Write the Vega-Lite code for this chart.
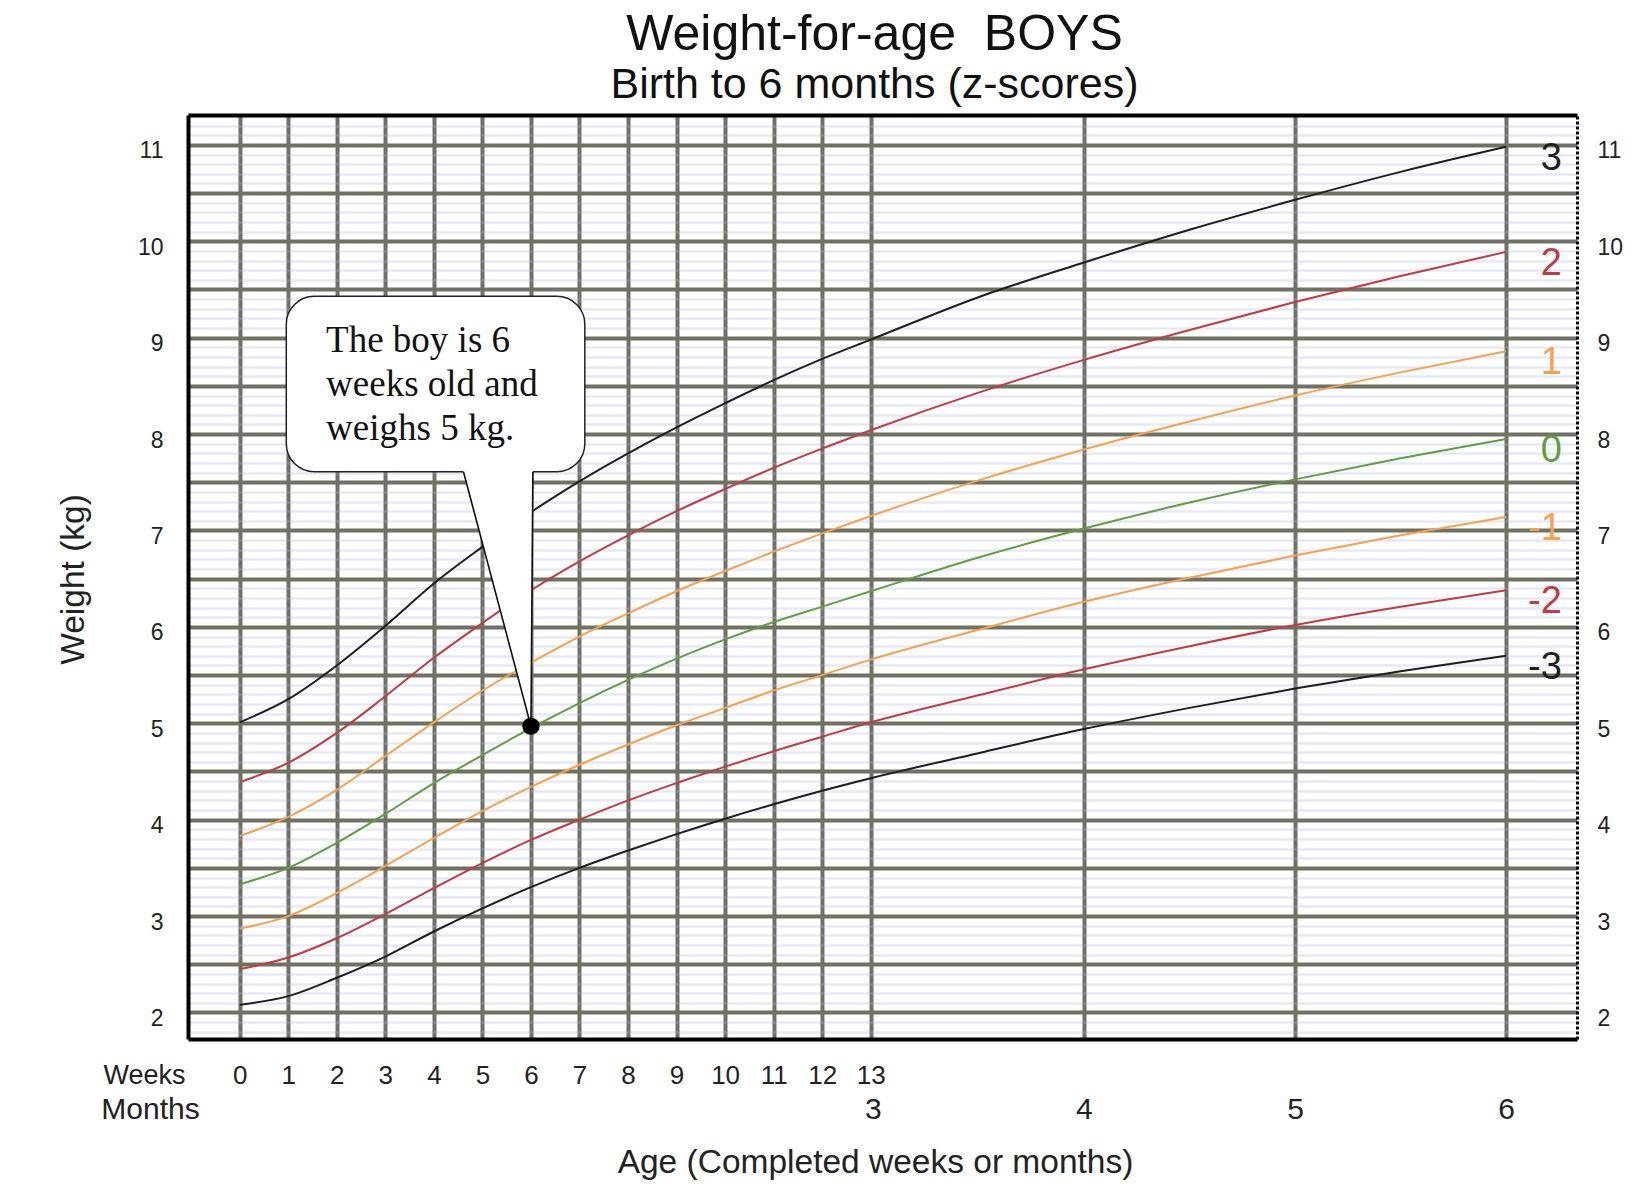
{
  "$schema": "https://vega.github.io/schema/vega-lite/v6.json",
  "width": 1389,
  "height": 924,
  "autosize": "none",
  "padding": {"left": 188, "top": 115, "right": 64, "bottom": 160},
  "background": "white",
  "config": {
    "font": "Liberation Sans",
    "view": {"stroke": null},
    "axis": {"labelColor": "#222", "titleColor": "#222", "titleFontWeight": "normal", "labelFont": "Liberation Sans", "titleFont": "Liberation Sans"}
  },
  "title": {
    "text": "Weight-for-age\u00a0 BOYS",
    "subtitle": "Birth to 6 months (z-scores)",
    "anchor": "middle",
    "font": "Liberation Sans",
    "subtitleFont": "Liberation Sans",
    "fontSize": 50,
    "subtitleFontSize": 43,
    "fontWeight": "normal",
    "color": "#111",
    "subtitleColor": "#111",
    "offset": 8,
    "subtitlePadding": 4,
    "dx": -8
  },
  "datasets": {
    "curves": [
      {"age": 0, "z": "3", "kg": 5.01}, {"age": 7, "z": "3", "kg": 5.25}, {"age": 14, "z": "3", "kg": 5.6}, {"age": 21, "z": "3", "kg": 6.01}, {"age": 28, "z": "3", "kg": 6.45}, {"age": 35, "z": "3", "kg": 6.83}, {"age": 42, "z": "3", "kg": 7.19}, {"age": 49, "z": "3", "kg": 7.51}, {"age": 56, "z": "3", "kg": 7.8}, {"age": 63, "z": "3", "kg": 8.07}, {"age": 70, "z": "3", "kg": 8.32}, {"age": 77, "z": "3", "kg": 8.56}, {"age": 84, "z": "3", "kg": 8.78}, {"age": 91, "z": "3", "kg": 8.98}, {"age": 106.53, "z": "3", "kg": 9.42}, {"age": 121.75, "z": "3", "kg": 9.78}, {"age": 136.97, "z": "3", "kg": 10.12}, {"age": 152.19, "z": "3", "kg": 10.43}, {"age": 167.41, "z": "3", "kg": 10.72}, {"age": 182.63, "z": "3", "kg": 10.98},
      {"age": 0, "z": "2", "kg": 4.39}, {"age": 7, "z": "2", "kg": 4.59}, {"age": 14, "z": "2", "kg": 4.9}, {"age": 21, "z": "2", "kg": 5.28}, {"age": 28, "z": "2", "kg": 5.68}, {"age": 35, "z": "2", "kg": 6.04}, {"age": 42, "z": "2", "kg": 6.38}, {"age": 49, "z": "2", "kg": 6.68}, {"age": 56, "z": "2", "kg": 6.95}, {"age": 63, "z": "2", "kg": 7.2}, {"age": 70, "z": "2", "kg": 7.43}, {"age": 77, "z": "2", "kg": 7.65}, {"age": 84, "z": "2", "kg": 7.85}, {"age": 91, "z": "2", "kg": 8.04}, {"age": 106.53, "z": "2", "kg": 8.43}, {"age": 121.75, "z": "2", "kg": 8.77}, {"age": 136.97, "z": "2", "kg": 9.08}, {"age": 152.19, "z": "2", "kg": 9.37}, {"age": 167.41, "z": "2", "kg": 9.64}, {"age": 182.63, "z": "2", "kg": 9.89},
      {"age": 0, "z": "1", "kg": 3.83}, {"age": 7, "z": "1", "kg": 4.03}, {"age": 14, "z": "1", "kg": 4.31}, {"age": 21, "z": "1", "kg": 4.66}, {"age": 28, "z": "1", "kg": 5.01}, {"age": 35, "z": "1", "kg": 5.34}, {"age": 42, "z": "1", "kg": 5.63}, {"age": 49, "z": "1", "kg": 5.9}, {"age": 56, "z": "1", "kg": 6.14}, {"age": 63, "z": "1", "kg": 6.37}, {"age": 70, "z": "1", "kg": 6.58}, {"age": 77, "z": "1", "kg": 6.78}, {"age": 84, "z": "1", "kg": 6.97}, {"age": 91, "z": "1", "kg": 7.15}, {"age": 106.53, "z": "1", "kg": 7.52}, {"age": 121.75, "z": "1", "kg": 7.84}, {"age": 136.97, "z": "1", "kg": 8.13}, {"age": 152.19, "z": "1", "kg": 8.4}, {"age": 167.41, "z": "1", "kg": 8.64}, {"age": 182.63, "z": "1", "kg": 8.86},
      {"age": 0, "z": "0", "kg": 3.33}, {"age": 7, "z": "0", "kg": 3.5}, {"age": 14, "z": "0", "kg": 3.76}, {"age": 21, "z": "0", "kg": 4.06}, {"age": 28, "z": "0", "kg": 4.38}, {"age": 35, "z": "0", "kg": 4.67}, {"age": 42, "z": "0", "kg": 4.95}, {"age": 49, "z": "0", "kg": 5.21}, {"age": 56, "z": "0", "kg": 5.45}, {"age": 63, "z": "0", "kg": 5.67}, {"age": 70, "z": "0", "kg": 5.87}, {"age": 77, "z": "0", "kg": 6.05}, {"age": 84, "z": "0", "kg": 6.21}, {"age": 91, "z": "0", "kg": 6.37}, {"age": 106.53, "z": "0", "kg": 6.72}, {"age": 121.75, "z": "0", "kg": 7.02}, {"age": 136.97, "z": "0", "kg": 7.29}, {"age": 152.19, "z": "0", "kg": 7.53}, {"age": 167.41, "z": "0", "kg": 7.75}, {"age": 182.63, "z": "0", "kg": 7.95},
      {"age": 0, "z": "-1", "kg": 2.87}, {"age": 7, "z": "-1", "kg": 3.0}, {"age": 14, "z": "-1", "kg": 3.24}, {"age": 21, "z": "-1", "kg": 3.52}, {"age": 28, "z": "-1", "kg": 3.81}, {"age": 35, "z": "-1", "kg": 4.09}, {"age": 42, "z": "-1", "kg": 4.34}, {"age": 49, "z": "-1", "kg": 4.57}, {"age": 56, "z": "-1", "kg": 4.78}, {"age": 63, "z": "-1", "kg": 4.98}, {"age": 70, "z": "-1", "kg": 5.16}, {"age": 77, "z": "-1", "kg": 5.34}, {"age": 84, "z": "-1", "kg": 5.5}, {"age": 91, "z": "-1", "kg": 5.66}, {"age": 106.53, "z": "-1", "kg": 5.97}, {"age": 121.75, "z": "-1", "kg": 6.26}, {"age": 136.97, "z": "-1", "kg": 6.51}, {"age": 152.19, "z": "-1", "kg": 6.74}, {"age": 167.41, "z": "-1", "kg": 6.95}, {"age": 182.63, "z": "-1", "kg": 7.14},
      {"age": 0, "z": "-2", "kg": 2.45}, {"age": 7, "z": "-2", "kg": 2.57}, {"age": 14, "z": "-2", "kg": 2.77}, {"age": 21, "z": "-2", "kg": 3.02}, {"age": 28, "z": "-2", "kg": 3.29}, {"age": 35, "z": "-2", "kg": 3.55}, {"age": 42, "z": "-2", "kg": 3.79}, {"age": 49, "z": "-2", "kg": 4.0}, {"age": 56, "z": "-2", "kg": 4.2}, {"age": 63, "z": "-2", "kg": 4.38}, {"age": 70, "z": "-2", "kg": 4.55}, {"age": 77, "z": "-2", "kg": 4.71}, {"age": 84, "z": "-2", "kg": 4.86}, {"age": 91, "z": "-2", "kg": 5.01}, {"age": 106.53, "z": "-2", "kg": 5.29}, {"age": 121.75, "z": "-2", "kg": 5.56}, {"age": 136.97, "z": "-2", "kg": 5.8}, {"age": 152.19, "z": "-2", "kg": 6.02}, {"age": 167.41, "z": "-2", "kg": 6.21}, {"age": 182.63, "z": "-2", "kg": 6.38},
      {"age": 0, "z": "-3", "kg": 2.08}, {"age": 7, "z": "-3", "kg": 2.17}, {"age": 14, "z": "-3", "kg": 2.36}, {"age": 21, "z": "-3", "kg": 2.58}, {"age": 28, "z": "-3", "kg": 2.84}, {"age": 35, "z": "-3", "kg": 3.08}, {"age": 42, "z": "-3", "kg": 3.3}, {"age": 49, "z": "-3", "kg": 3.5}, {"age": 56, "z": "-3", "kg": 3.68}, {"age": 63, "z": "-3", "kg": 3.85}, {"age": 70, "z": "-3", "kg": 4.01}, {"age": 77, "z": "-3", "kg": 4.16}, {"age": 84, "z": "-3", "kg": 4.3}, {"age": 91, "z": "-3", "kg": 4.43}, {"age": 106.53, "z": "-3", "kg": 4.69}, {"age": 121.75, "z": "-3", "kg": 4.94}, {"age": 136.97, "z": "-3", "kg": 5.16}, {"age": 152.19, "z": "-3", "kg": 5.36}, {"age": 167.41, "z": "-3", "kg": 5.54}, {"age": 182.63, "z": "-3", "kg": 5.7}
    ],
    "tail": [
      {"kg": 4.97, "from": 42.0, "to": 42.0},
      {"kg": 7.65, "from": 32.12, "to": 42.28}
    ],
    "tailSides": [
      {"xa": 32.27, "ya": 7.61, "xb": 42.0, "yb": 4.97},
      {"xa": 42.28, "ya": 7.61, "xb": 42.0, "yb": 4.97}
    ]
  },
  "layer": [
    {
      "data": {"name": "curves"},
      "mark": {"type": "point", "opacity": 0},
      "encoding": {
        "x": {
          "field": "age", "type": "quantitative",
          "scale": {"domain": [-7.455, 192.85], "nice": false, "zero": false},
          "axis": {"orient": "bottom", "labels": false, "ticks": false, "domain": false, "grid": false,
            "title": "Age (Completed weeks or months)", "titleFontSize": 33.5, "titleX": 687, "titleY": 123.5,
            "titleBaseline": "middle", "titleAlign": "center", "titleAnchor": null}
        },
        "y": {
          "field": "kg", "type": "quantitative",
          "scale": {"domain": [1.725, 11.31], "nice": false, "zero": false},
          "axis": {"values": [1.8,1.9,2,2.1,2.2,2.3,2.4,2.5,2.6,2.7,2.8,2.9,3,3.1,3.2,3.3,3.4,3.5,3.6,3.7,3.8,3.9,4,4.1,4.2,4.3,4.4,4.5,4.6,4.7,4.8,4.9,5,5.1,5.2,5.3,5.4,5.5,5.6,5.7,5.8,5.9,6,6.1,6.2,6.3,6.4,6.5,6.6,6.7,6.8,6.9,7,7.1,7.2,7.3,7.4,7.5,7.6,7.7,7.8,7.9,8,8.1,8.2,8.3,8.4,8.5,8.6,8.7,8.8,8.9,9,9.1,9.2,9.3,9.4,9.5,9.6,9.7,9.8,9.9,10,10.1,10.2,10.3,10.4,10.5,10.6,10.7,10.8,10.9,11,11.1,11.2,11.3],
            "grid": true, "gridColor": "#a9b6ea", "gridOpacity": 0.3, "gridWidth": 2.5, "labels": false, "ticks": false, "domain": false, "title": null}
        }
      }
    },
    {
      "data": {"name": "curves"},
      "mark": {"type": "line", "interpolate": "monotone", "strokeWidth": 2},
      "encoding": {
        "x": {
          "field": "age", "type": "quantitative",
          "axis": {"orient": "bottom", "values": [0,7,14,21,28,35,42,49,56,63,70,77,84,91,121.75,152.19,182.63],
            "labelExpr": "datum.value <= 91.5 ? '' + round(datum.value / 7) : ''",
            "grid": true, "gridColor": "#6f7163", "gridWidth": 4,
            "ticks": false, "tickSize": 0, "domain": true, "domainColor": "#000", "domainWidth": 4,
            "labelFontSize": 26, "labelPadding": 36, "labelBaseline": "middle", "labelOverlap": false, "labelFlush": false,
            "title": "Weeks", "titleFontSize": 27, "titleX": -44, "titleY": 36.5, "titleBaseline": "middle", "titleAlign": "center", "titleAnchor": null}
        },
        "y": {
          "field": "kg", "type": "quantitative",
          "axis": {"orient": "left", "values": [2,2.5,3,3.5,4,4.5,5,5.5,6,6.5,7,7.5,8,8.5,9,9.5,10,10.5,11],
            "labelExpr": "datum.value % 1 === 0 ? format(datum.value, 'd') : ''",
            "grid": true, "gridColor": "#6f7163", "gridWidth": 4,
            "ticks": false, "tickSize": 0, "domain": true, "domainColor": "#000", "domainWidth": 4,
            "labelFontSize": 23, "labelPadding": 25, "labelOffset": 6, "labelOverlap": false, "labelFlush": false,
            "title": "Weight (kg)", "titleFontSize": 33.5, "titleX": -115, "titleY": 464, "titleAngle": 270, "titleBaseline": "middle", "titleAlign": "center", "titleAnchor": null}
        },
        "color": {
          "field": "z", "type": "nominal",
          "scale": {"domain": ["3","2","1","0","-1","-2","-3"], "range": ["#1e1e1e","#c23b3f","#f6a14c","#5e9f41","#f6a14c","#c23b3f","#1e1e1e"]},
          "legend": null
        }
      }
    },
    {
      "data": {"name": "curves"},
      "mark": {"type": "point", "opacity": 0},
      "encoding": {
        "x": {
          "field": "age", "type": "quantitative",
          "axis": {"orient": "bottom", "values": [91.31,121.75,152.19,182.63],
            "labelExpr": "'' + round(datum.value / 30.4375)",
            "grid": false, "ticks": false, "tickSize": 0, "domain": false,
            "labelFontSize": 30, "labelPadding": 70, "labelBaseline": "middle", "labelOverlap": false, "labelFlush": false,
            "title": "Months", "titleFontSize": 30, "titleX": -38, "titleY": 70.5, "titleBaseline": "middle", "titleAlign": "center", "titleAnchor": null}
        },
        "y": {
          "field": "kg", "type": "quantitative",
          "axis": {"orient": "right", "values": [2,3,4,5,6,7,8,9,10,11],
            "grid": false, "ticks": false, "tickSize": 0, "domain": true, "domainColor": "#000", "domainWidth": 3, "domainDash": [3,2],
            "labelFontSize": 23, "labelPadding": 20, "labelOffset": 6, "labelAlign": "left", "labelOverlap": false, "labelFlush": false,
            "title": null}
        }
      }
    },
    {
      "data": {"name": "curves"},
      "mark": {"type": "point", "opacity": 0},
      "encoding": {
        "x": {
          "field": "age", "type": "quantitative",
          "axis": {"orient": "top", "labels": false, "ticks": false, "tickSize": 0, "grid": false, "domain": true, "domainColor": "#000", "domainWidth": 4, "title": null}
        },
        "y": {"field": "kg", "type": "quantitative", "axis": null}
      }
    },
    {
      "data": {"values": [{}]},
      "mark": {"type": "rect", "fill": "white", "stroke": "#222", "strokeWidth": 1.5, "cornerRadius": 28},
      "encoding": {
        "x": {"datum": 6.72, "type": "quantitative", "axis": null},
        "x2": {"datum": 49.77},
        "y": {"datum": 9.43, "type": "quantitative", "axis": null},
        "y2": {"datum": 7.61}
      }
    },
    {
      "data": {"name": "tail"},
      "mark": {"type": "area", "orient": "horizontal", "fill": "white", "strokeWidth": 0},
      "encoding": {
        "y": {"field": "kg", "type": "quantitative", "axis": null},
        "x": {"field": "from", "type": "quantitative", "axis": null},
        "x2": {"field": "to"}
      }
    },
    {
      "data": {"name": "tailSides"},
      "mark": {"type": "rule", "color": "#111", "strokeWidth": 1.6},
      "encoding": {
        "x": {"field": "xa", "type": "quantitative", "axis": null},
        "y": {"field": "ya", "type": "quantitative", "axis": null},
        "x2": {"field": "xb"},
        "y2": {"field": "yb"}
      }
    },
    {
      "data": {"values": [{}]},
      "mark": {"type": "point", "filled": true, "color": "#000", "opacity": 1, "size": 300},
      "encoding": {
        "x": {"datum": 42, "type": "quantitative", "axis": null},
        "y": {"datum": 4.97, "type": "quantitative", "axis": null}
      }
    },
    {
      "data": {"values": [{}]},
      "mark": {"type": "text", "align": "left", "baseline": "alphabetic", "font": "Liberation Serif", "fontSize": 37, "lineHeight": 44, "color": "#111",
        "text": ["The boy is 6", "weeks old and", "weighs 5 kg."]},
      "encoding": {
        "x": {"datum": 12.46, "type": "quantitative", "axis": null},
        "y": {"datum": 8.855, "type": "quantitative", "axis": null}
      }
    },
    {
      "data": {"name": "curves"},
      "transform": [{"filter": "datum.age > 180"}],
      "mark": {"type": "text", "align": "right", "baseline": "middle", "fontSize": 38, "dy": 12},
      "encoding": {
        "x": {"datum": 190.67, "type": "quantitative", "axis": null},
        "y": {"field": "kg", "type": "quantitative", "axis": null},
        "text": {"field": "z"},
        "color": {"field": "z", "type": "nominal", "legend": null}
      }
    }
  ],
  "resolve": {"axis": {"x": "independent", "y": "independent"}}
}
